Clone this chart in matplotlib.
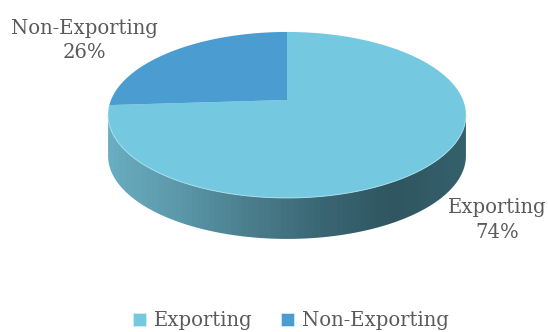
import numpy as np
import matplotlib
matplotlib.use('Agg')
import matplotlib.pyplot as plt
from matplotlib.colors import LinearSegmentedColormap
from matplotlib.patches import Patch, Polygon

categories = ['Exporting', 'Non-Exporting']
shares = [74, 26]

colors = ['#74C9E0', '#4B9CD0']
text_color = '#5A5A5A'
label_pos = [(497, 220), (84, 40.5)]

# pie disc geometry, in pixels
cx, cy = 287, 100
half_w, half_h = 176, 80.3
tilt = 0.18
depth = 41


def rim(theta):
    # clockwise angle from 12 o'clock -> point on the tilted disc
    u, v = np.sin(theta), np.cos(theta)
    return cx + half_w * u / (1 + tilt * v), cy - half_h * v / (1 + tilt * v)


plt.rcParams['font.family'] = ['DejaVu Serif']
fig = plt.figure(figsize=(5.48, 3.32), dpi=100)
ax = fig.add_axes([0, 0, 1, 1])
ax.set_xlim(0, 548)
ax.set_ylim(332, 0)
ax.axis('off')

# side wall with the horizontal shading
start = np.arccos(-tilt)
front = np.linspace(start, 2 * np.pi - start, 200)
fx, fy = rim(front)
wall = Polygon(np.r_[np.c_[fx, fy], np.c_[fx[::-1], fy[::-1] + depth]],
               closed=True, fc='none', ec='none')
ax.add_patch(wall)
shade = LinearSegmentedColormap.from_list(
    'wall', ['#34606C', '#2F5661', '#3A6673', '#4A7D8C', '#5A97A9', '#69ADC0'])
grad = ax.imshow(np.arange(64).reshape(1, -1)[:, ::-1], cmap=shade, aspect='auto',
                 extent=(fx.min(), fx.max(), fy.max() + depth, fy.min()))
grad.set_clip_path(wall)
ax.set_xlim(0, 548)
ax.set_ylim(332, 0)

# top face, one wedge per share
edges = np.cumsum([0] + shares) / sum(shares) * 2 * np.pi
for i, name in enumerate(categories):
    t = np.linspace(edges[i], edges[i + 1], 200)
    x, y = rim(t)
    ax.add_patch(Polygon(np.r_[[[cx, cy]], np.c_[x, y]], closed=True,
                         fc=colors[i], ec='none'))
    ax.text(label_pos[i][0], label_pos[i][1], f'{name}\n{shares[i]}%',
            ha='center', va='center', fontsize=14.1, color=text_color,
            linespacing=1.35)

# thin highlight where the top face meets the wall
ax.plot(fx, fy, color='#A5DCEA', lw=0.7)

handles = [Patch(fc=c, ec='#DDEEF4', lw=0.5) for c in colors]
ax.legend(handles, categories, ncol=2, loc='center', bbox_to_anchor=(291 / 548, 1 - 321 / 332),
          frameon=False, fontsize=14.1, labelcolor=text_color, handlelength=0.65,
          handleheight=0.65, handletextpad=0.4, columnspacing=1.45)

fig.savefig('out.png', dpi=100)
